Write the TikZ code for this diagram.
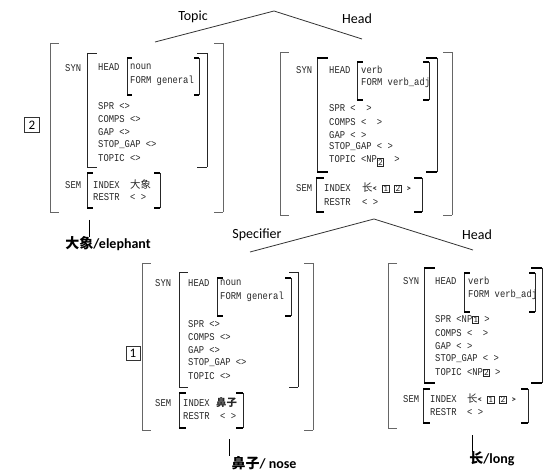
\documentclass[tikz,border=0pt]{standalone}
\usepackage{fontspec}
\setmainfont{Carlito}
\newfontfamily\avmfont{Liberation Mono}[FakeStretch=0.85]
\newfontfamily\cjk{Noto Sans CJK SC}
\newcommand\tagbx[1]{{\setlength\fboxsep{0.5pt}\setlength\fboxrule{0.6pt}\fbox{\rmfamily\fontsize{9}{9}\selectfont #1}}}
% style of verticals, style of serifs, xL, xR, yTop, yBot, serif length
\newcommand\avmbr[7]{%
  \draw[#1] (#3,#5) -- (#3,#6);
  \draw[#1] (#4,#5) -- (#4,#6);
  \draw[#2] (#3,#5) -- (#3+#7,#5) (#3,#6) -- (#3+#7,#6)
            (#4,#5) -- (#4-#7,#5) (#4,#6) -- (#4-#7,#6);}
\tikzset{
  t/.style={anchor=west,inner sep=0pt,font=\avmfont\fontsize{10.4}{11}\selectfont,text=black!85},
  lbl/.style={inner sep=0pt,font=\fontsize{14}{16}\selectfont},
  word/.style={inner sep=0pt,font=\bfseries\fontsize{14}{16}\selectfont},
  outer/.style={draw=black!60,line width=0.9pt},
  inv/.style={draw=black!85,line width=0.8pt},
  ins/.style={draw=black,line width=1.6pt},
  bigtag/.style={draw=black!80,line width=0.7pt,minimum size=15pt,inner sep=0pt,font=\fontsize{13}{13}\selectfont},
  tree/.style={draw=black!80,line width=0.8pt},
  foot/.style={draw=black,line width=0.8pt}
}
\begin{document}
\begin{tikzpicture}[x=1pt,y=-1pt]
\useasboundingbox (0,0) rectangle (544,473);
% ---------- top tree ----------
\coordinate (tApex) at (274,11);
\coordinate (tL) at (155,42);
\coordinate (tR) at (362,39);
\draw[tree] (tL) -- (tApex) -- (tR);
\node[lbl] (topicLbl) at (193,17) {Topic};
\node[lbl] (headLbl1) at (357,19) {Head};
% ---------- AVM A (tag 2) ----------
\node[bigtag] (tag2) at (32,125) {2};
\avmbr{outer}{outer}{50}{223}{43}{212}{9}
\avmbr{inv}{inv}{87}{207}{53}{167}{10}
\avmbr{inv}{ins}{127}{199}{58}{95}{5}
\avmbr{inv}{ins}{87}{160}{173}{208}{6}
\node[t] (aSyn) at (65,68) {SYN};
\node[t] (aHead) at (98,67) {HEAD};
\node[t] (aNoun) at (130,67) {noun};
\node[t] (aForm) at (130,81) {FORM general};
\node[t] (aSpr) at (98,106) {SPR <>};
\node[t] (aComps) at (98,119) {COMPS <>};
\node[t] (aGap) at (98,132) {GAP <>};
\node[t] (aStop) at (98,145) {STOP\_GAP <>};
\node[t] (aTopic) at (98,158) {TOPIC <>};
\node[t] (aSem) at (65,185) {SEM};
\node[t] (aIndex) at (93,185) {INDEX};
\node[t] (aIval) at (130,185) {{\cjk 大象}};
\node[t] (aRestr) at (93,197) {RESTR};
\node[t] (aRval) at (130,197) {< >};
\coordinate (aFoot) at (89,220);
\node[word] (wElephant) at (108,244) {{\cjk\bfseries 大象}/elephant};
\draw[foot] (aFoot) -- (aFoot |- wElephant.north);
% ---------- AVM B ----------
\avmbr{outer}{outer}{280}{452}{52}{215}{9}
\avmbr{inv}{ins}{317}{437}{58}{172}{11}
\avmbr{inv}{ins}{357}{429}{62}{100}{6}
\avmbr{inv}{ins}{316}{422}{178}{212}{8}
\node[t] (bSyn) at (296,70) {SYN};
\node[t] (bHead) at (329,70) {HEAD};
\node[t] (bVerb) at (361,70) {verb};
\node[t] (bForm) at (361,83) {FORM verb\_adj};
\node[t] (bSpr) at (329,108) {SPR <\ \ >};
\node[t] (bComps) at (329,122) {COMPS <\ \ >};
\node[t] (bGap) at (329,135) {GAP < >};
\node[t] (bStop) at (329,147) {STOP\_GAP < >};
\node[t] (bTopic) at (329,161) {TOPIC <NP\raisebox{-3pt}{\tagbx{2}}\ \ >};
\node[t] (bSem) at (296,188) {SEM};
\node[t] (bIndex) at (324,188) {INDEX};
\node[t] (bIval) at (362,188) {{\cjk 长}{\rmfamily\bfseries\small<} \tagbx{1} \tagbx{2} {\rmfamily\bfseries\small>}};
\node[t] (bRestr) at (324,202) {RESTR};
\node[t] (bRval) at (362,202) {< >};
% ---------- lower tree ----------
\coordinate (lApex) at (374,219);
\coordinate (lL) at (250,252);
\coordinate (lR) at (473,250);
\draw[tree] (lL) -- (lApex) -- (lR);
\node[lbl] (specLbl) at (257,235) {Specifier};
\node[lbl] (headLbl2) at (477,235) {Head};
% ---------- AVM C (tag 1) ----------
\node[bigtag,minimum size=14pt] (tag1) at (133,353) {1};
\avmbr{outer}{outer}{142}{313}{263}{430}{9}
\avmbr{inv}{inv}{179}{298}{272}{387}{9}
\avmbr{inv}{ins}{217}{291}{278}{316}{6}
\avmbr{inv}{ins}{179}{243}{393}{428}{7}
\node[t] (cSyn) at (155,283) {SYN};
\node[t] (cHead) at (188,283) {HEAD};
\node[t] (cNoun) at (220,283) {noun};
\node[t] (cForm) at (220,297) {FORM general};
\node[t] (cSpr) at (188,324) {SPR <>};
\node[t] (cComps) at (188,337) {COMPS <>};
\node[t] (cGap) at (188,350) {GAP <>};
\node[t] (cStop) at (188,363) {STOP\_GAP <>};
\node[t] (cTopic) at (188,376) {TOPIC <>};
\node[t] (cSem) at (155,403) {SEM};
\node[t] (cIndex) at (183,403) {INDEX};
\node[t] (cIval) at (216,403) {{\cjk\bfseries 鼻子}};
\node[t] (cRestr) at (183,416) {RESTR};
\node[t] (cRval) at (220,416) {< >};
\coordinate (cFoot) at (229,439);
\node[word] (wNose) at (264,463) {{\cjk\bfseries 鼻子}/ nose};
\draw[foot] (cFoot) -- (cFoot |- wNose.north);
% ---------- AVM D ----------
\draw[outer] (397,263) -- (388,263) -- (388,428) -- (397,428);
\avmbr{inv}{ins}{424}{542}{268}{383}{11}
\avmbr{inv}{ins}{464}{535}{273}{312}{6}
\avmbr{inv}{ins}{423}{528}{389}{423}{7}
\node[t] (dSyn) at (403,281) {SYN};
\node[t] (dHead) at (435,281) {HEAD};
\node[t] (dVerb) at (468,281) {verb};
\node[t] (dForm) at (468,295) {FORM verb\_adj};
\node[t] (dSpr) at (435,320) {SPR <NP\tagbx{1} >};
\node[t] (dComps) at (435,333) {COMPS <\ \ >};
\node[t] (dGap) at (435,346) {GAP < >};
\node[t] (dStop) at (435,359) {STOP\_GAP < >};
\node[t] (dTopic) at (435,373) {TOPIC <NP\tagbx{2} >};
\node[t] (dSem) at (403,399) {SEM};
\node[t] (dIndex) at (430,399) {INDEX};
\node[t] (dIval) at (467,399) {{\cjk 长}{\rmfamily\bfseries\small<} \tagbx{1} \tagbx{2} {\rmfamily\bfseries\small>}};
\node[t] (dRestr) at (430,412) {RESTR};
\node[t] (dRval) at (467,412) {< >};
\coordinate (dFoot) at (472,435);
\node[word] (wLong) at (492,459) {{\cjk\bfseries 长}/long};
\draw[foot] (dFoot) -- (dFoot |- wLong.north);
\end{tikzpicture}
\end{document}
